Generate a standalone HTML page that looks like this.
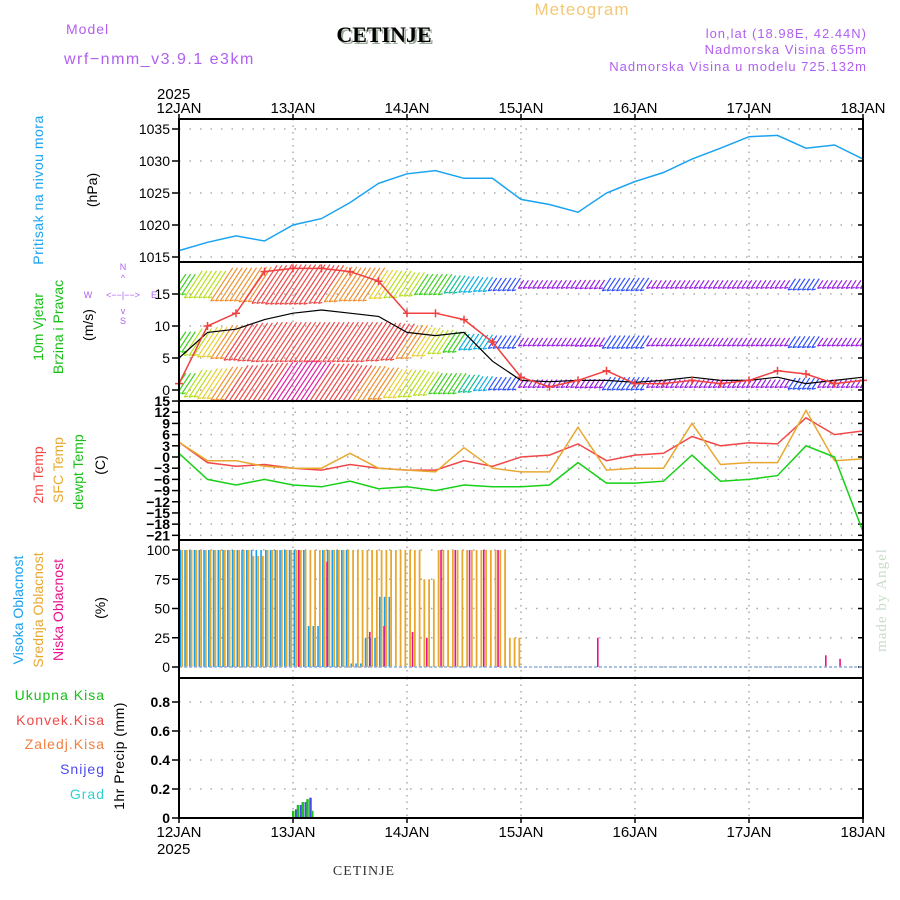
<!DOCTYPE html>
<html><head><meta charset="utf-8">
<style>
html,body{margin:0;padding:0;background:#fff;}
svg{display:block;font-family:"Liberation Sans",sans-serif;}
</style></head>
<body>
<svg id="chart" width="900" height="900" viewBox="0 0 900 900" xmlns="http://www.w3.org/2000/svg">
<rect width="900" height="900" fill="#fff"/>
<text x="582" y="15" font-size="17" fill="#f2c879" text-anchor="middle" letter-spacing="1">Meteogram</text>
<text x="66" y="34" font-size="14" fill="#b060f0" letter-spacing="1">Model</text>
<text x="64" y="64" font-size="16" fill="#b060f0" letter-spacing="1.5">wrf−nmm_v3.9.1 e3km</text>
<text x="386" y="44" font-size="22" font-weight="bold" font-family="Liberation Serif,serif" fill="#9a9" text-anchor="middle">CETINJE</text>
<text x="384" y="42" font-size="22" font-weight="bold" font-family="Liberation Serif,serif" fill="#000" text-anchor="middle">CETINJE</text>
<text x="867" y="38" font-size="13" fill="#b060f0" text-anchor="end" letter-spacing="1">lon,lat (18.98E, 42.44N)</text>
<text x="867" y="54" font-size="13" fill="#b060f0" text-anchor="end" letter-spacing="1">Nadmorska Visina 655m</text>
<text x="867" y="71" font-size="13" fill="#b060f0" text-anchor="end" letter-spacing="1">Nadmorska Visina u modelu 725.132m</text>
<g id="layer"></g>
</svg>
<script>
// ---- data (6-hourly from 12JAN 00 to 18JAN 00) ----
const dayLabels = ["12JAN","13JAN","14JAN","15JAN","16JAN","17JAN","18JAN"];
const pressure = [1016,1017.3,1018.3,1017.5,1020,1021,1023.5,1026.5,1028,1028.5,1027.3,1027.3,1024,1023.2,1022,1025,1026.8,1028.2,1030.3,1032,1033.8,1034,1032,1032.5,1030.3];
const windSpeed = [5,9,9.5,11,12,12.5,12,11.5,9,8.5,9,4.5,1.5,1.3,1.5,1.5,1.2,1.5,2,1.5,1.5,2,1,1.5,2];
const windGust = [1,10,12,18.5,19,19,18.5,17,12,12,11,7.5,2,0.5,1.5,3,1,1,1.5,1,1.5,3,2.5,1,1.5];
const temp2m = [4,-1.5,-2.5,-2,-3,-3.5,-2,-3,-3.5,-3.5,-1,-2.5,0,0.5,3.5,-1,0.5,1,5.5,3,3.8,3.5,10.5,6,7];
const tempSfc = [4,-1,-1,-2.5,-3,-3,1,-3,-3.5,-4,2.5,-3,-4,-4,8,-3.5,-3,-3,9,-2,-1.5,-1.5,12.5,-1,-0.5];
const dewpt = [1,-6,-7.5,-6,-7.5,-8,-6.5,-8.5,-8,-9,-7.5,-8,-8,-7.5,-1.5,-7,-7,-6.5,0.5,-6.5,-6,-5,3,0,-20];
// 3-hourly wind barb rows
const barbTop = [5,7,7,9,9,9.5,10.5,11,11,11,10.5,9.5,9,9,7.5,7,6,5,5,4,3.5,3,2.5,2.5,1,1,1,1,1.2,1.2,2.5,2.5,2.5,1,1,1,1,1,1,1,1,1,1,2,2,1,1,1,1];
const barbMid = [5,7,8,9,10,10.5,11,11,11,11,11,11,11,11,10.5,10,9,7.5,6,5,3.5,3,2.5,2.5,1,1,1,1,1.2,1.2,2.5,2.5,2.5,1,1,1,1,1,1,1,1,1,1,2,2,1,1,1,1];
const barbLow = [5,7,8,9,10,11,11.5,12,13,12,11,11,10,9.5,8.5,7.5,7,6,5,5,4,3,2.5,2.5,1,1,1,1,1.2,1.2,2.5,2.5,2.5,1,1,1,1,1,1,1,1,1,1,2,2,1,1,1,1];
const barbRowLevels = [16.5,7.5,1];
// 3-hourly cloud cover (%)
const cloudHigh = [100,100,100,100,100,100,100,100,100,35,100,100,3,25,60,0,0,0,0,0,0,0,0,0,0,0,0,0,0,0,0,0,0,0,0,0,0,0,0,0,0,0,0,0,0,0,0,0,0];
const cloudMid = [100,100,100,100,100,95,100,100,100,100,100,100,100,100,100,100,100,75,100,100,100,100,100,25,0,0,0,0,0,0,0,0,0,0,0,0,0,0,0,0,0,0,0,0,0,0,0,0,0];
const cloudLow = [0,0,0,0,0,0,0,0,100,0,90,0,0,30,35,0,30,25,100,100,100,100,100,0,0,0,0,0,0,25,0,0,0,0,0,0,0,0,0,0,0,0,0,0,0,10,7,0,0];
// hourly precip around 13JAN
const precipHours = [24,25,26,27,28];
const precipTotal = [0.05,0.09,0.11,0.13,0.05];
const precipSnow = [0.06,0.09,0.11,0.14,0];
const pTicks = [1015,1020,1025,1030,1035];
const wTicks = [0,5,10,15];
const tTicks = [15,12,9,6,3,0,-3,-6,-9,-12,-15,-18,-21];
const cTicks = [0,25,50,75,100];
const rTicks = [0,0.2,0.4,0.6,0.8];

const NS="http://www.w3.org/2000/svg";
const L=document.getElementById('layer');
function mk(tag,attrs,parent){const e=document.createElementNS(NS,tag);for(const k in attrs)e.setAttribute(k,attrs[k]);(parent||L).appendChild(e);return e;}
const X0=179,X1=863;
const xh=h=>X0+h*(X1-X0)/144;
const yP=v=>257-(v-1015)*6.4;
const yW=v=>390-v*6.4;
const yT=v=>457-v*3.73;
const yC=v=>667-v*1.17;
const yR=v=>818-v*145;
const panels=[[119,262],[262,401],[401,540],[540,678],[678,818]];

function hgrid(ys){ys.forEach(y=>{const g=mk('line',{x1:X0,x2:X1,y1:y,y2:y,stroke:'#aaa','stroke-width':1.5,'stroke-dasharray':'1.5 9'});

});}
panels.forEach(p=>{for(let d=1;d<6;d++){const g=mk('line',{x1:xh(d*24),x2:xh(d*24),y1:p[0],y2:p[1],stroke:'#aaa','stroke-width':1.5,'stroke-dasharray':'1.5 5'});

}});
hgrid(pTicks.map(yP));hgrid(wTicks.map(yW));hgrid(tTicks.map(yT));hgrid(cTicks.map(yC));hgrid(rTicks.map(yR));

function ylab(ticks,fy,fmt,name,bold){ticks.forEach(v=>{const y=fy(v);
const t=mk('text',{x:170,y:y+5,'font-size':14,'text-anchor':'end','font-weight':bold?'bold':'normal'});t.textContent=fmt(v);


const tk=mk('line',{x1:172,x2:X0,y1:y,y2:y,stroke:'#000','stroke-width':1.5});


const tr=mk('line',{x1:X1-5,x2:X1,y1:y,y2:y,stroke:'#000','stroke-width':1.5});

});}
ylab(pTicks,yP,v=>v,'pressure-tick-label');
ylab(wTicks,yW,v=>v,'wind-tick-label');
ylab(tTicks,yT,v=>v<0?'−'+(-v):v,'temp-tick-label',true);
ylab(cTicks,yC,v=>v,'cloud-tick-label');
ylab(rTicks,yR,v=>v===0?'0':v.toFixed(1),'precip-tick-label',true);

function poly(arr,fy,color,name,w){const pts=arr.map((v,i)=>xh(i*6).toFixed(1)+','+fy(v).toFixed(1)).join(' ');
const p=mk('polyline',{points:pts,fill:'none',stroke:color,'stroke-width':w||1.5});

return p;}
poly(pressure,yP,'#1aa3f0','pressure-line');

// wind barbs (each 3h value drawn as 3 hourly strokes)
const clipW=mk('clipPath',{id:'cw'});mk('rect',{x:X0,y:262,width:X1-X0,height:139},clipW);
const gB=mk('g',{'clip-path':'url(#cw)'});
function barbColor(s){if(s<1.5)return'#9a1ee6';if(s<2.8)return'#3050ff';if(s<3.8)return'#10b0e0';if(s<4.8)return'#10c090';if(s<6)return'#40d020';if(s<7.5)return'#b8e020';if(s<8.5)return'#e8d030';if(s<10)return'#f09030';if(s<11.8)return'#f04848';return'#e020a0';}
[barbTop,barbMid,barbLow].forEach((row,r)=>{const yc=yW(barbRowLevels[r]);row.forEach((s,i)=>{
const Ln=6+s*3.8;const dx=0.55*Ln,dy=0.83*Ln;
for(let k=0;k<3;k++){const x=xh(i*3+k);
const b=mk('line',{x1:x+dx/2,y1:yc-dy/2,x2:x-dx/2,y2:yc+dy/2,stroke:barbColor(s),'stroke-width':1.2},gB);


const h=mk('line',{x1:x-dx/2,y1:yc+dy/2,x2:x-dx/2+4,y2:yc+dy/2-1,stroke:barbColor(s),'stroke-width':1.2},gB);

}});});
poly(windSpeed,yW,'#000','wind-speed-line',1.2);
poly(windGust,yW,'#f04040','wind-gust-line',1.5);
windGust.forEach((v,i)=>{const x=xh(i*6),y=yW(v);
const m=mk('path',{d:`M${x-4},${y}h8M${x},${y-4}v8`,stroke:'#f04040','stroke-width':1.5});

});

poly(temp2m,yT,'#f04848','temp-2m-line');
poly(tempSfc,yT,'#e8a830','temp-sfc-line');
poly(dewpt,yT,'#18d018','dewpoint-line');

// clouds (each 3h value drawn at hourly positions)
function cbars(arr,color,off,w,name){arr.forEach((v,i)=>{if(v<=0)return;for(let k=0;k<3;k++){const x=xh(i*3+k);
const b=mk('rect',{x:x+off,y:yC(v),width:w,height:yC(0)-yC(v),fill:color});

}});}
cbars(cloudHigh,'#18a0f0',0.5,1.6,'cloud-high-bar');
cbars(cloudMid,'#e8a830',2.2,1.8,'cloud-mid-bar');
cloudLow.forEach((v,i)=>{if(v<=0)return;const x=xh(i*3+1);
const b=mk('rect',{x:x,y:yC(v),width:1.6,height:yC(0)-yC(v),fill:'#e8108c'});

});
const cb=mk('line',{x1:X0,x2:X1,y1:yC(0),y2:yC(0),stroke:'#90b0e0','stroke-width':1.5,'stroke-dasharray':'3 2'});



precipHours.forEach((h,i)=>{const x=xh(h);
const g=mk('rect',{x:x-1,y:yR(precipTotal[i]),width:2.5,height:yR(0)-yR(precipTotal[i]),fill:'#20c020'});


if(precipSnow[i]>0){const s=mk('rect',{x:x+2,y:yR(precipSnow[i]),width:2.5,height:yR(0)-yR(precipSnow[i]),fill:'#4a4af0'});

}});

panels.forEach(p=>{const r=mk('rect',{x:X0,y:p[0],width:X1-X0,height:p[1]-p[0],fill:'none',stroke:'#000','stroke-width':2});

});

dayLabels.forEach((d,i)=>{const x=xh(i*24);
const t=mk('text',{x:x,y:113,'font-size':15,'text-anchor':'middle'});t.textContent=d;


const b=mk('text',{x:x,y:837,'font-size':15,'text-anchor':'middle'});b.textContent=d;


[[119,114],[818,823]].forEach(q=>{const k=mk('line',{x1:x,x2:x,y1:q[0],y2:q[1],stroke:'#000','stroke-width':1.5});

});});
</script>
<svg style="position:absolute;left:0;top:0" width="900" height="900">
<g font-family="Liberation Sans,sans-serif">
<text x="157" y="99" font-size="15">2025</text>
<text x="157" y="854" font-size="15">2025</text>
<text x="364" y="875" font-size="14" font-family="Liberation Serif,serif" fill="#333" text-anchor="middle" letter-spacing="1">CETINJE</text>
<text transform="translate(886,600) rotate(-90)" font-size="15" font-family="Liberation Serif,serif" fill="#c8dcc8" text-anchor="middle" letter-spacing="1">made by Angel</text>
<text transform="translate(43,190) rotate(-90)" font-size="14" fill="#1aa3f0" text-anchor="middle" letter-spacing="0.5">Pritisak na nivou mora</text>
<text transform="translate(97,190) rotate(-90)" font-size="14" text-anchor="middle">(hPa)</text>
<text transform="translate(43,327) rotate(-90)" font-size="14" fill="#18c018" text-anchor="middle">10m Vjetar</text>
<text transform="translate(63,327) rotate(-90)" font-size="14" fill="#18c018" text-anchor="middle">Brzina i Pravac</text>
<text transform="translate(93,325) rotate(-90)" font-size="14" text-anchor="middle">(m/s)</text>
<g font-size="9" fill="#b060f0" text-anchor="middle">
<text x="88" y="298">W</text><text x="123" y="298">&lt;−−|−−&gt;</text><text x="154" y="298">E</text>
<text x="123" y="270">N</text><text x="123" y="281">^</text><text x="123" y="314">v</text><text x="123" y="324">S</text>
</g>
<text transform="translate(43,475) rotate(-90)" font-size="14" fill="#f04848" text-anchor="middle">2m Temp</text>
<text transform="translate(63,470) rotate(-90)" font-size="14" fill="#e8a830" text-anchor="middle">SFC Temp</text>
<text transform="translate(83,472) rotate(-90)" font-size="14" fill="#18c018" text-anchor="middle">dewpt Temp</text>
<text transform="translate(105,465) rotate(-90)" font-size="14" text-anchor="middle">(C)</text>
<text transform="translate(23,610) rotate(-90)" font-size="14" fill="#18a0f0" text-anchor="middle">Visoka Oblacnost</text>
<text transform="translate(43,610) rotate(-90)" font-size="14" fill="#e8a830" text-anchor="middle">Srednja Oblacnost</text>
<text transform="translate(63,610) rotate(-90)" font-size="14" fill="#e8108c" text-anchor="middle">Niska Oblacnost</text>
<text transform="translate(105,608) rotate(-90)" font-size="14" text-anchor="middle">(%)</text>
<text x="105" y="700" font-size="14" fill="#18c018" text-anchor="end" letter-spacing="1">Ukupna Kisa</text>
<text x="105" y="725" font-size="14" fill="#f04848" text-anchor="end" letter-spacing="1">Konvek.Kisa</text>
<text x="105" y="749" font-size="14" fill="#f08040" text-anchor="end" letter-spacing="1">Zaledj.Kisa</text>
<text x="105" y="774" font-size="14" fill="#4a4af0" text-anchor="end" letter-spacing="1">Snijeg</text>
<text x="105" y="799" font-size="14" fill="#30d0d0" text-anchor="end" letter-spacing="1">Grad</text>
<text transform="translate(124,756) rotate(-90)" font-size="14" text-anchor="middle" letter-spacing="0.5">1hr Precip (mm)</text>
</g>
</svg>
</body></html>
